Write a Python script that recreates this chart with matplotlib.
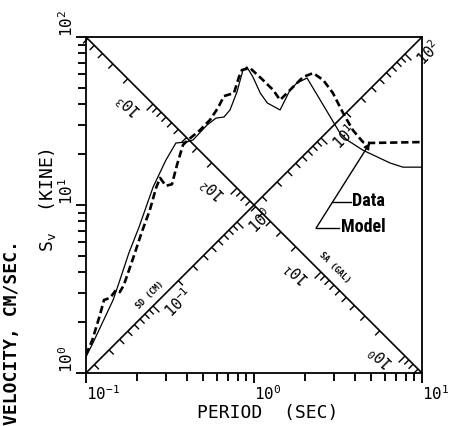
import numpy as np
import matplotlib
matplotlib.use('Agg')
import matplotlib.pyplot as plt
from matplotlib.collections import LineCollection
from matplotlib import font_manager as fm
from matplotlib.ticker import NullFormatter, LogLocator

plt.rcParams['mathtext.fontset'] = 'custom'
plt.rcParams['mathtext.rm'] = 'DejaVu Sans Mono'
plt.rcParams['mathtext.it'] = 'DejaVu Sans Mono'
plt.rcParams['mathtext.bf'] = 'DejaVu Sans Mono:bold'

MONO = 'DejaVu Sans Mono'


def pick_font(names):
    for n in names:
        try:
            fm.findfont(fm.FontProperties(family=n), fallback_to_default=False)
            return n
        except ValueError:
            pass
    return 'DejaVu Sans'


NARROW = pick_font(['Liberation Sans Narrow', 'DejaVu Sans Condensed', 'Roboto Condensed'])

# --- values (period in s, Sv in cm/s) ---
model_period = [0.100, 0.110, 0.145, 0.157, 0.180, 0.207, 0.251, 0.299, 0.343, 0.394,
                0.434, 0.525, 0.594, 0.663, 0.720, 0.792, 0.860, 0.908, 0.986, 1.09,
                1.20, 1.43, 1.64, 1.80, 2.07, 2.99, 3.25, 3.58, 4.45, 6.45, 7.70, 10.0]
model_sv = [1.25, 1.51, 2.72, 3.43, 5.18, 7.40, 12.8, 18.5, 23.4, 23.7,
            24.4, 29.9, 32.9, 33.4, 36.8, 47.1, 63.6, 66.3, 57.8, 46.4,
            40.5, 36.8, 48.4, 53.2, 57.0, 30.8, 26.8, 24.4, 21.2, 17.8, 16.8, 16.8]

data_period = [0.100, 0.109, 0.121, 0.128, 0.139, 0.151, 0.159, 0.168, 0.191, 0.215,
               0.240, 0.261, 0.276, 0.299, 0.325, 0.348, 0.378, 0.405, 0.477, 0.547,
               0.610, 0.663, 0.760, 0.814, 0.848, 0.947, 1.13, 1.30, 1.43, 1.64,
               1.96, 2.25, 2.58, 2.95, 3.39, 3.88, 4.45, 4.90, 10.0]
data_sv = [1.28, 1.57, 2.21, 2.72, 2.80, 3.12, 3.03, 3.34, 4.84, 6.91,
           9.34, 12.6, 14.5, 13.0, 13.3, 17.3, 22.8, 24.4, 27.9, 32.1,
           37.8, 44.5, 46.4, 57.8, 63.6, 65.4, 55.5, 48.4, 42.2, 48.4,
           57.8, 61.0, 55.5, 46.4, 35.3, 27.9, 23.7, 23.4, 23.7]
arrow_idx = 37

x_ticks = [0.1, 1, 10]
x_labels = ['10$^{-1}$', '10$^{0}$', '10$^{1}$']
y_ticks = [1, 10, 100]
y_labels = ['10$^{0}$', '10$^{1}$', '10$^{2}$']

sd_decades = [0.1, 1, 10, 100]
sd_labels = ['10$^{-1}$', '10$^{0}$', '10$^{1}$', '10$^{2}$']
sa_decades = [1000, 100, 10, 1]
sa_labels = ['10$^{3}$', '10$^{2}$', '10$^{1}$', '10$^{0}$']

TMIN, TMAX, SVMIN, SVMAX = 0.1, 10, 1, 100

fig = plt.figure(figsize=(4.49, 4.26), dpi=100)
ax = fig.add_axes([0.1915, 0.1244, 0.7483, 0.7887])
ax.set_xscale('log')
ax.set_yscale('log')
ax.set_xlim(TMIN, TMAX)
ax.set_ylim(SVMIN, SVMAX)

for s in ax.spines.values():
    s.set_linewidth(1.3)

ax.set_xticks(x_ticks, labels=x_labels)
ax.set_yticks(y_ticks, labels=y_labels)
ax.xaxis.set_minor_locator(LogLocator(base=10, subs=np.arange(2, 10)))
ax.yaxis.set_minor_locator(LogLocator(base=10, subs=np.arange(2, 10)))
ax.xaxis.set_minor_formatter(NullFormatter())
ax.yaxis.set_minor_formatter(NullFormatter())
ax.tick_params(which='both', direction='out', top=False, right=False,
               width=1.1, color='#111111')
ax.tick_params(which='major', length=7)
ax.tick_params(which='minor', length=5.5)
ax.tick_params(axis='x', pad=1, labelsize=11.5)
ax.tick_params(axis='y', pad=0, labelsize=11.5)
for t in ax.get_xticklabels():
    t.set_ha('left')
    t.set_family(MONO)
for t in ax.get_yticklabels():
    t.set_rotation(90)
    t.set_va('bottom')
    t.set_family(MONO)

# outward ticks on the bottom and left frame, drawn explicitly
frame_vals = [k * 10.0 ** n for n in range(-1, 2) for k in range(1, 10)] + [100.0]
maj_len, min_len = 9.5 / 336, 7.5 / 336
xsegs = [[(v, 0), (v, -(maj_len if k == 0 else min_len))]
         for k, v in [(round(np.log10(v) % 1, 6), v) for v in frame_vals if TMIN <= v <= TMAX]]
ysegs = [[(0, v), (-(maj_len if k == 0 else min_len), v)]
         for k, v in [(round(np.log10(v) % 1, 6), v) for v in frame_vals if SVMIN <= v <= SVMAX]]
ax.add_collection(LineCollection(xsegs, colors='k', linewidths=1.1, clip_on=False,
                                 transform=ax.get_xaxis_transform()))
ax.add_collection(LineCollection(ysegs, colors='k', linewidths=1.1, clip_on=False,
                                 transform=ax.get_yaxis_transform()))

# diagonal SD / SA axes
ax.plot([TMIN, TMAX], [SVMIN, SVMAX], color='k', lw=1.2)
ax.plot([TMIN, TMAX], [SVMAX, SVMIN], color='k', lw=1.2)

ax_w_px = fig.get_figwidth() * fig.dpi * 0.7483
ppd = ax_w_px / 2.0  # pixels per decade


def sd_point(sd):
    lt = 0.5 * np.log10(2 * np.pi * sd / 10.0)
    return lt, lt + 1


def sa_point(sa):
    lt = 0.5 * np.log10(20 * np.pi / sa)
    return lt, 1 - lt


def in_range(lt):
    return -1.0 < lt < 1.0


segs = []
for n in range(-2, 4):
    for k in range(1, 10):
        v = k * 10.0 ** n
        L = (9 if k == 1 else 6.5) / ppd / np.sqrt(2)
        lt, ls = sd_point(v)
        if in_range(lt):
            segs.append([(10 ** lt, 10 ** ls), (10 ** (lt + L), 10 ** (ls - L))])
        lt, ls = sa_point(v)
        if in_range(lt):
            segs.append([(10 ** lt, 10 ** ls), (10 ** (lt - L), 10 ** (ls - L))])
ax.add_collection(LineCollection(segs, colors='k', linewidths=1.0, clip_on=False))

for v, lab in zip(sd_decades, sd_labels):
    lt, ls = sd_point(v)
    ax.annotate(lab, xy=(10 ** lt, 10 ** ls), xytext=(10, -6), textcoords='offset points',
                rotation=45, rotation_mode='anchor', ha='left', va='center',
                family=MONO, fontsize=11, annotation_clip=False)
for v, lab in zip(sa_decades, sa_labels):
    lt, ls = sa_point(v)
    ax.annotate(lab, xy=(10 ** lt, 10 ** ls), xytext=(-10, -7), textcoords='offset points',
                rotation=135, rotation_mode='anchor', ha='left', va='center',
                family=MONO, fontsize=11, annotation_clip=False)

ax.annotate('SD (CM)', xy=(0.265, 2.65), xytext=(-5, 5), textcoords='offset points',
            rotation=45, rotation_mode='anchor', ha='center', va='center',
            family=MONO, fontsize=6, fontweight='bold')
ax.annotate('SA (GAL)', xy=(2.68, 10 / 2.68), xytext=(6.5, 6.5), textcoords='offset points',
            rotation=-45, rotation_mode='anchor', ha='center', va='center',
            family=MONO, fontsize=6, fontweight='bold')

# spectra
ax.plot(model_period, model_sv, color='k', lw=0.9)
ax.plot(data_period, data_sv, color='k', lw=1.9, dashes=(2.8, 1.4))

# legend with leader lines
ax.annotate('', xy=(data_period[arrow_idx], data_sv[arrow_idx]), xycoords='data',
            xytext=(0.685, 0.4315), textcoords='axes fraction',
            arrowprops=dict(arrowstyle='-|>', color='k', lw=1.0, mutation_scale=9,
                            shrinkA=0, shrinkB=0))
ax.plot([0.731, 0.789], [0.509, 0.509], color='k', lw=1.0, transform=ax.transAxes)
ax.plot([0.685, 0.753], [0.4315, 0.4315], color='k', lw=1.0, transform=ax.transAxes)
ax.text(0.792, 0.512, 'Data', transform=ax.transAxes, ha='left', va='center',
        family=NARROW, fontweight='bold', fontsize=13)
ax.text(0.759, 0.4345, 'Model', transform=ax.transAxes, ha='left', va='center',
        family=NARROW, fontweight='bold', fontsize=13)

# axis titles
fig.text(0.597, 0.030, 'PERIOD  (SEC)', family=MONO, fontsize=13, ha='center', va='center')
fig.text(0.1047, 0.5305, 'S$_{\\rm v}$  (KINE)', family=MONO, fontsize=13,
         rotation=90, ha='center', va='center')
fig.text(0.0267, 0.4366, 'VELOCITY, CM/SEC.', family=MONO, fontsize=13, fontweight='bold',
         rotation=90, rotation_mode='anchor', ha='right', va='center')

fig.savefig('out.png', dpi=100)
